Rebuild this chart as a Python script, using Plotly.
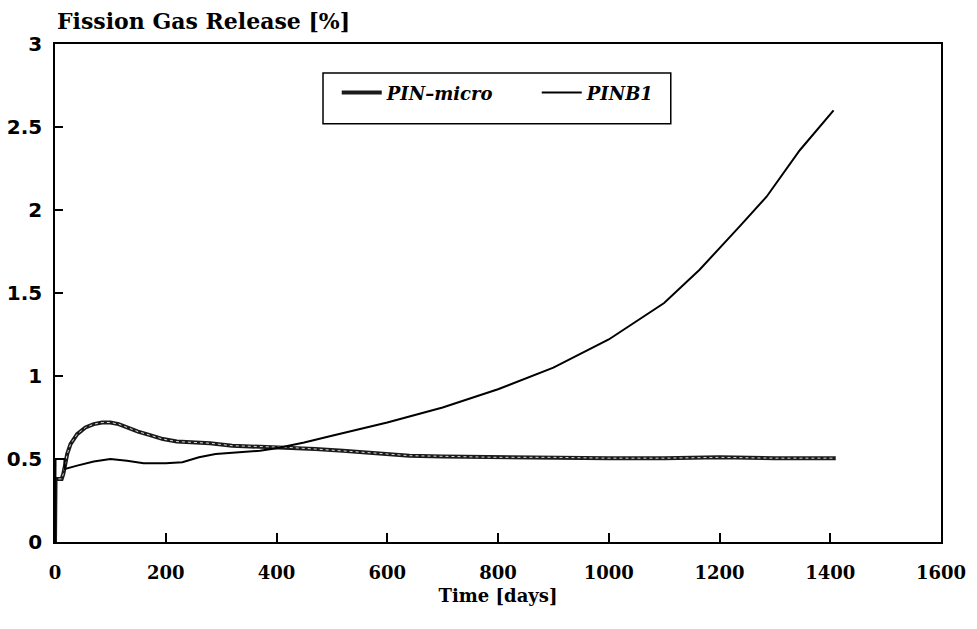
import plotly.graph_objects as go

# Fission gas release over irradiation time for two fuel-pin models
micro_days = [0, 1, 12, 15, 18, 22, 28, 40, 55, 70, 85, 100, 115, 130, 150, 170, 195, 220, 250,
              280, 320, 370, 420, 470, 520, 580, 640, 700, 800, 900, 1000, 1100, 1200, 1300, 1410]
micro_fgr = [0.0, 0.38, 0.38, 0.41, 0.46, 0.53, 0.59, 0.65, 0.69, 0.71, 0.72, 0.72, 0.71, 0.69,
             0.665, 0.645, 0.62, 0.605, 0.60, 0.595, 0.58, 0.575, 0.57, 0.56, 0.55, 0.535, 0.52,
             0.515, 0.51, 0.51, 0.505, 0.505, 0.51, 0.505, 0.505]

b1_days = [0, 1, 17, 18, 40, 70, 100, 130, 160, 200, 230, 260, 290, 330, 370, 400, 450, 500,
           600, 700, 800, 900, 1000, 1100, 1164, 1236, 1285, 1345, 1406]
b1_fgr = [0.0, 0.5, 0.5, 0.44, 0.46, 0.485, 0.50, 0.49, 0.475, 0.475, 0.48, 0.51, 0.53, 0.54,
          0.55, 0.565, 0.60, 0.64, 0.72, 0.81, 0.92, 1.05, 1.22, 1.44, 1.64, 1.90, 2.08, 2.36, 2.60]

x_ticks = [0, 200, 400, 600, 800, 1000, 1200, 1400, 1600]
y_ticks = [0, 0.5, 1, 1.5, 2, 2.5, 3]
y_tick_text = ["0", "0.5", "1", "1.5", "2", "2.5", "3"]

fig = go.Figure()

# PIN-micro: heavy dark stroke with a light dotted core
fig.add_trace(go.Scatter(
    x=micro_days, y=micro_fgr, mode="lines", name="PIN–micro",
    line=dict(color="#1a1a1a", width=4), legendgroup="micro",
))
fig.add_trace(go.Scatter(
    x=micro_days, y=micro_fgr, mode="lines", showlegend=False,
    line=dict(color="#d8d8d8", width=1, dash="dot"), legendgroup="micro",
    hoverinfo="skip",
))
# PINB1: thin solid stroke
fig.add_trace(go.Scatter(
    x=b1_days, y=b1_fgr, mode="lines", name="PINB1",
    line=dict(color="black", width=2),
))

axis_common = dict(
    showline=True, linecolor="black", linewidth=1.5, mirror=True,
    ticks="inside", tickcolor="black", tickwidth=1.5,
    showgrid=False, zeroline=False, automargin=False,
)

fig.update_xaxes(
    range=[0, 1600], tickvals=x_ticks, ticklen=9,
    tickfont=dict(family="DejaVu Serif", size=18, color="black", weight="bold"),
    ticklabelstandoff=14,
    title=dict(text="Time [days]", standoff=7,
               font=dict(family="DejaVu Serif", size=18, color="black", weight="bold")),
    **axis_common,
)
fig.update_yaxes(
    range=[0, 3], tickvals=y_ticks, ticktext=y_tick_text, ticklen=8,
    tickfont=dict(family="DejaVu Sans", size=20, color="black", weight="bold"),
    ticklabelstandoff=7,
    **axis_common,
)

# legend frame
fig.add_shape(type="rect", xref="paper", yref="paper",
              x0=0.3025, x1=0.695, y0=0.84, y1=0.942,
              line=dict(color="black", width=1.5), fillcolor="rgba(0,0,0,0)")

fig.update_layout(
    width=977, height=629,
    margin=dict(l=55, r=36, t=44, b=87),
    paper_bgcolor="white", plot_bgcolor="white",
    showlegend=True,
    legend=dict(
        orientation="h", x=0.318, xanchor="left", y=0.902, yanchor="middle",
        entrywidth=145, entrywidthmode="pixels", itemwidth=40,
        bgcolor="rgba(0,0,0,0)", borderwidth=0,
        font=dict(family="DejaVu Serif", size=18, color="black", weight="bold", style="italic"),
    ),
    annotations=[dict(
        text="Fission Gas Release [%]", xref="paper", yref="paper",
        x=0, y=1, xanchor="left", yanchor="bottom", yshift=8, showarrow=False,
        font=dict(family="DejaVu Serif", size=22, color="black", weight="bold"),
    )],
)

fig.write_html("out.html")
